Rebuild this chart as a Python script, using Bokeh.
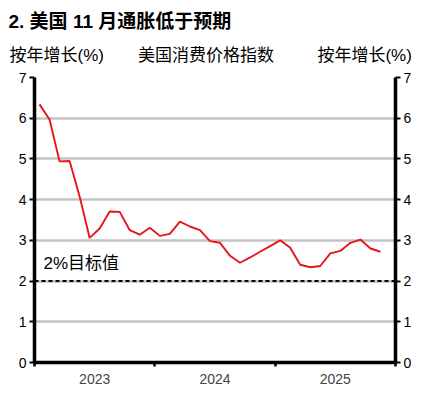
from bokeh.plotting import figure
from bokeh.models import Range1d, FixedTicker, LinearAxis, Span, Label, Title
from bokeh.embed import file_html
from bokeh.resources import INLINE

# Data: US CPI y/y (%), monthly Jan 2023 .. Nov 2025
months = list(range(35))
cpi = [6.34, 5.97, 4.94, 4.95, 4.08, 3.06, 3.29, 3.71, 3.70, 3.25, 3.14, 3.31,
       3.11, 3.16, 3.46, 3.34, 3.25, 2.98, 2.94, 2.62, 2.45, 2.58, 2.72, 2.86,
       3.00, 2.82, 2.40, 2.34, 2.37, 2.68, 2.74, 2.94, 3.02, 2.80, 2.72]
year_labels = ["2023", "2024", "2025"]
year_centers = [5.5, 17.5, 29.5]
year_bounds = [-0.5, 11.5, 23.5, 35.5]
y_ticks = [0, 1, 2, 3, 4, 5, 6, 7]
target = 2
main_title = "2. 美国 11 月通胀低于预期"
sub_left = "按年增长(%)"
sub_mid = "美国消费价格指数"
sub_right = "按年增长(%)"
target_label = "2%目标值"

FONT = "'Liberation Sans', 'Noto Sans CJK SC', sans-serif"

p = figure(width=419, height=389, output_backend="svg", toolbar_location=None,
           x_range=Range1d(-0.5, 35.5), y_range=Range1d(0, 7),
           min_border_left=34, min_border_right=24, min_border_top=77,
           min_border_bottom=27, title=None)
p.outline_line_color = None
p.background_fill_color = "white"
p.border_fill_color = "white"

# grid
p.xgrid.visible = False
p.ygrid.grid_line_color = "#c3c3c3"
p.ygrid.grid_line_width = 2.5
p.ygrid.ticker = FixedTicker(ticks=y_ticks)

def style_y(ax):
    ax.ticker = FixedTicker(ticks=y_ticks)
    ax.axis_line_width = 3.5
    ax.axis_line_color = "black"
    ax.major_tick_out = 5
    ax.major_tick_in = 0
    ax.major_tick_line_width = 2
    ax.minor_tick_out = 0
    ax.minor_tick_in = 0
    ax.major_label_text_font = FONT
    ax.major_label_text_font_size = "14px"
    ax.major_label_text_color = "black"
    ax.major_label_standoff = 3

style_y(p.yaxis[0])
ra = LinearAxis()
style_y(ra)
p.add_layout(ra, "right")

xa = p.xaxis[0]
xa.ticker = FixedTicker(ticks=year_centers, minor_ticks=year_bounds)
xa.major_label_overrides = {c: l for c, l in zip(year_centers, year_labels)}
xa.axis_line_width = 3.5
xa.axis_line_color = "black"
xa.major_tick_out = 0
xa.major_tick_in = 0
xa.minor_tick_out = 4
xa.minor_tick_in = 0
xa.minor_tick_line_width = 2.5
xa.minor_tick_line_color = "black"
xa.major_label_text_font = FONT
xa.major_label_text_font_size = "14px"
xa.major_label_standoff = 7

# target line
p.add_layout(Span(location=target, dimension="width", line_color="black",
                  line_width=2, line_dash="4 3"))

p.line(months, cpi, line_color="#e8141c", line_width=1.9)

p.add_layout(Label(x=0.4, y=2.43, text=target_label, text_font=FONT,
                   text_font_size="17px", text_baseline="middle", text_color="black"))

# titles (first added sits closest to the plot)
gap1 = "\u3000\u3000"
gap2 = "\u3000\u3000\u00a0\u00a0"
sub = Title(text=sub_left + gap1 + sub_mid + gap2 + sub_right, align="left",
            offset=-25, standoff=25, text_font=FONT, text_font_size="17px",
            text_font_style="normal", text_color="black")
p.add_layout(sub, "above")
main = Title(text=main_title, align="left", offset=-26, standoff=0,
             text_font=FONT, text_font_size="19px", text_font_style="bold",
             text_color="black")
p.add_layout(main, "above")

open("out.html", "w").write(file_html(p, INLINE))
